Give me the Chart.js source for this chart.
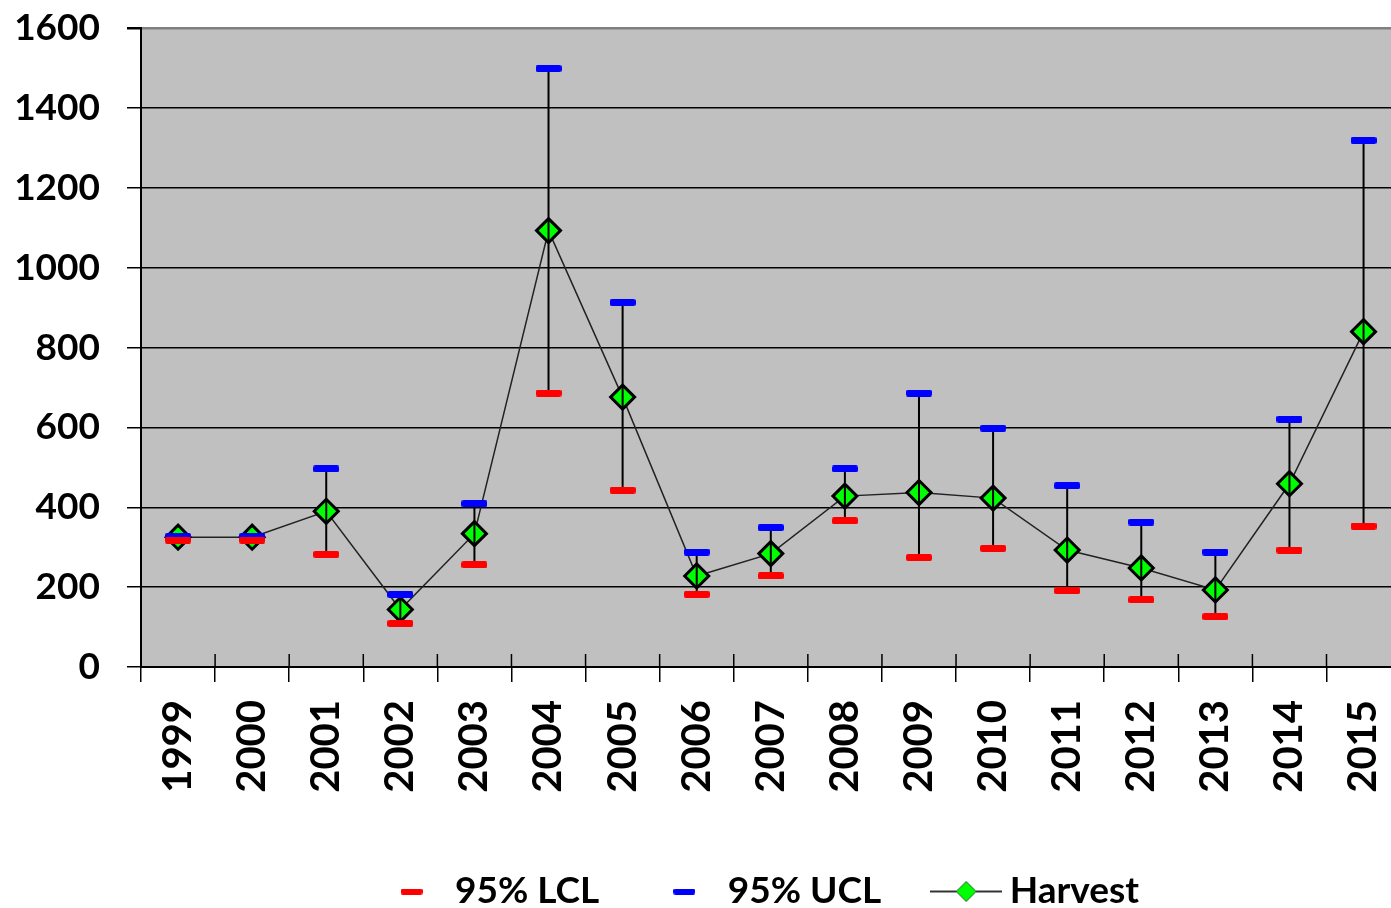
<!DOCTYPE html>
<html>
<head>
<meta charset="utf-8">
<script src="https://cdn.jsdelivr.net/npm/chart.js@4/dist/chart.umd.min.js"></script>
<style>
  html, body { margin: 0; padding: 0; background: #fff; overflow: hidden; }
  #wrap { width: 1430px; height: 908px; position: relative; }
</style>
</head>
<body>
<div id="wrap"><canvas id="c"></canvas></div>
<script>
const years = ['1999','2000','2001','2002','2003','2004','2005','2006','2007','2008','2009','2010','2011','2012','2013','2014','2015'];
const harvest = [325, 325, 390, 144, 334, 1093, 676, 228, 284, 428, 437, 423, 293, 248, 193, 459, 840];
const lcl = [318, 318, 282, 109, 256, 686, 443, 182, 228, 366, 274, 297, 191, 168, 126, 293, 353];
const ucl = [327, 327, 496, 182, 409, 1499, 913, 288, 349, 496, 686, 598, 454, 363, 288, 621, 1319];
const yTicks = [0, 200, 400, 600, 800, 1000, 1200, 1400, 1600];
const seriesNames = ['95% LCL', '95% UCL', 'Harvest'];

function barImage(color, w, h) {
  const c = document.createElement('canvas');
  c.width = w; c.height = h;
  const g = c.getContext('2d');
  g.fillStyle = color;
  const r = 2;
  g.beginPath();
  g.moveTo(r, 0); g.lineTo(w - r, 0); g.quadraticCurveTo(w, 0, w, r);
  g.lineTo(w, h - r); g.quadraticCurveTo(w, h, w - r, h);
  g.lineTo(r, h); g.quadraticCurveTo(0, h, 0, h - r);
  g.lineTo(0, r); g.quadraticCurveTo(0, 0, r, 0);
  g.fill();
  return c;
}
function harvestLegendImage() {
  const w = 72, h = 24;
  const c = document.createElement('canvas');
  c.width = w; c.height = h;
  const g = c.getContext('2d');
  g.strokeStyle = '#333'; g.lineWidth = 2;
  g.beginPath(); g.moveTo(0, h / 2); g.lineTo(w, h / 2); g.stroke();
  const cx = w / 2, cy = h / 2, r = 10;
  g.beginPath();
  g.moveTo(cx, cy - r); g.lineTo(cx + r, cy); g.lineTo(cx, cy + r); g.lineTo(cx - r, cy); g.closePath();
  g.fillStyle = '#00ff00'; g.fill();
  g.strokeStyle = '#2a5a2a'; g.lineWidth = 1; g.stroke();
  return c;
}

const lclMark = barImage('#ff0000', 26, 7);
const uclMark = barImage('#0000ff', 26, 7);
const lclLeg = barImage('#ff0000', 22, 6);
const uclLeg = barImage('#0000ff', 22, 6);
const harvLeg = harvestLegendImage();

const bgPlugin = {
  id: 'bg',
  afterLayout(chart) {
    if (chart.legend) { chart.legend.left -= 8; chart.legend.right -= 8; }
  },
  beforeDraw(chart) {
    const a = chart.chartArea, ctx = chart.ctx;
    ctx.save();
    ctx.fillStyle = '#c0c0c0';
    ctx.fillRect(a.left, a.top, a.right - a.left, a.bottom - a.top);
    ctx.restore();
  },
  beforeDatasetsDraw(chart) {
    const a = chart.chartArea, ctx = chart.ctx, xs = chart.scales.x;
    const step = xs.getPixelForValue(1) - xs.getPixelForValue(0);
    ctx.save();
    ctx.strokeStyle = '#000';
    ctx.lineWidth = 1.5;
    ctx.beginPath();
    for (let i = 0; i <= years.length; i++) {
      const x = xs.getPixelForValue(0) + (i - 0.5) * step;
      ctx.moveTo(x, a.bottom - 13);
      ctx.lineTo(x, a.bottom);
    }
    ctx.stroke();
    ctx.restore();
  },
  beforeDatasetDraw(chart, args) {
    if (args.index !== 1) return;
    const ctx = chart.ctx, xs = chart.scales.x, ys = chart.scales.y;
    ctx.save();
    ctx.strokeStyle = '#000';
    ctx.lineWidth = 2;
    ctx.beginPath();
    for (let i = 0; i < years.length; i++) {
      const x = xs.getPixelForValue(i);
      ctx.moveTo(x, ys.getPixelForValue(lcl[i]));
      ctx.lineTo(x, ys.getPixelForValue(ucl[i]));
    }
    ctx.stroke();
    ctx.restore();
  }
};

const FONT = 'Lato';

new Chart(document.getElementById('c'), {
  type: 'line',
  data: {
    labels: years,
    datasets: [
      {
        label: seriesNames[0], data: lcl, showLine: false,
        pointStyle: lclMark, pointRadius: 13, pointHoverRadius: 13,
        borderColor: '#ff0000', backgroundColor: '#ff0000'
      },
      {
        label: seriesNames[1], data: ucl, showLine: false,
        pointStyle: uclMark, pointRadius: 13, pointHoverRadius: 13,
        borderColor: '#0000ff', backgroundColor: '#0000ff'
      },
      {
        label: seriesNames[2], data: harvest, showLine: true,
        borderColor: '#222', borderWidth: 1.5, tension: 0,
        pointStyle: 'rectRot', pointRadius: 12, pointHoverRadius: 12,
        pointBackgroundColor: '#00ff00', pointBorderColor: '#000', pointBorderWidth: 3,
        pointHoverBorderWidth: 3
      }
    ]
  },
  options: {
    responsive: true,
    maintainAspectRatio: false,
    animation: false,
    events: [],
    layout: { padding: { top: 0, left: 0, right: 0, bottom: 0 } },
    plugins: {
      tooltip: { enabled: false },
      legend: {
        position: 'bottom',
        fullSize: false,
        maxHeight: 95,
        labels: {
          usePointStyle: true,
          pointStyleWidth: 50,
          padding: 60,
          color: '#000',
          font: { family: FONT, size: 37, weight: 'bold' },
          generateLabels(chart) {
            const imgs = [lclLeg, uclLeg, harvLeg];
            return chart.data.datasets.map((ds, i) => ({
              text: ds.label,
              pointStyle: imgs[i],
              fillStyle: 'transparent',
              strokeStyle: 'transparent',
              lineWidth: 0,
              hidden: false,
              datasetIndex: i,
              fontColor: '#000'
            }));
          }
        }
      }
    },
    scales: {
      x: {
        offset: true,
        grid: {
          offset: true, drawOnChartArea: false, tickLength: 15,
          color: '#000', lineWidth: 1.5
        },
        border: { display: true, color: '#000', width: 2 },
        ticks: {
          minRotation: 90, maxRotation: 90, padding: 18,
          color: '#000', font: { family: FONT, size: 40, weight: 'bold' }
        },
        afterFit(scale) { scale.height = 146; }
      },
      y: {
        min: 0, max: 1600,
        afterBuildTicks(scale) { scale.ticks = yTicks.map(v => ({ value: v })); },
        grid: {
          color: (c) => (c.tick && c.tick.value === 1600 ? '#808080' : '#000'),
          tickColor: '#000',
          lineWidth: (c) => (c.tick && c.tick.value === 1600 ? 2.5 : 1.5),
          tickLength: 35,
          tickBorderDash: [0, 21, 14, 0]
        },
        border: { display: true, color: '#000', width: 2 },
        ticks: {
          padding: 6, color: '#000',
          font: { family: FONT, size: 37, weight: 'bold' },
          callback: (v) => String(v)
        },
        afterFit(scale) { scale.width = 141; }
      }
    }
  },
  plugins: [bgPlugin]
});
</script>
</body>
</html>
